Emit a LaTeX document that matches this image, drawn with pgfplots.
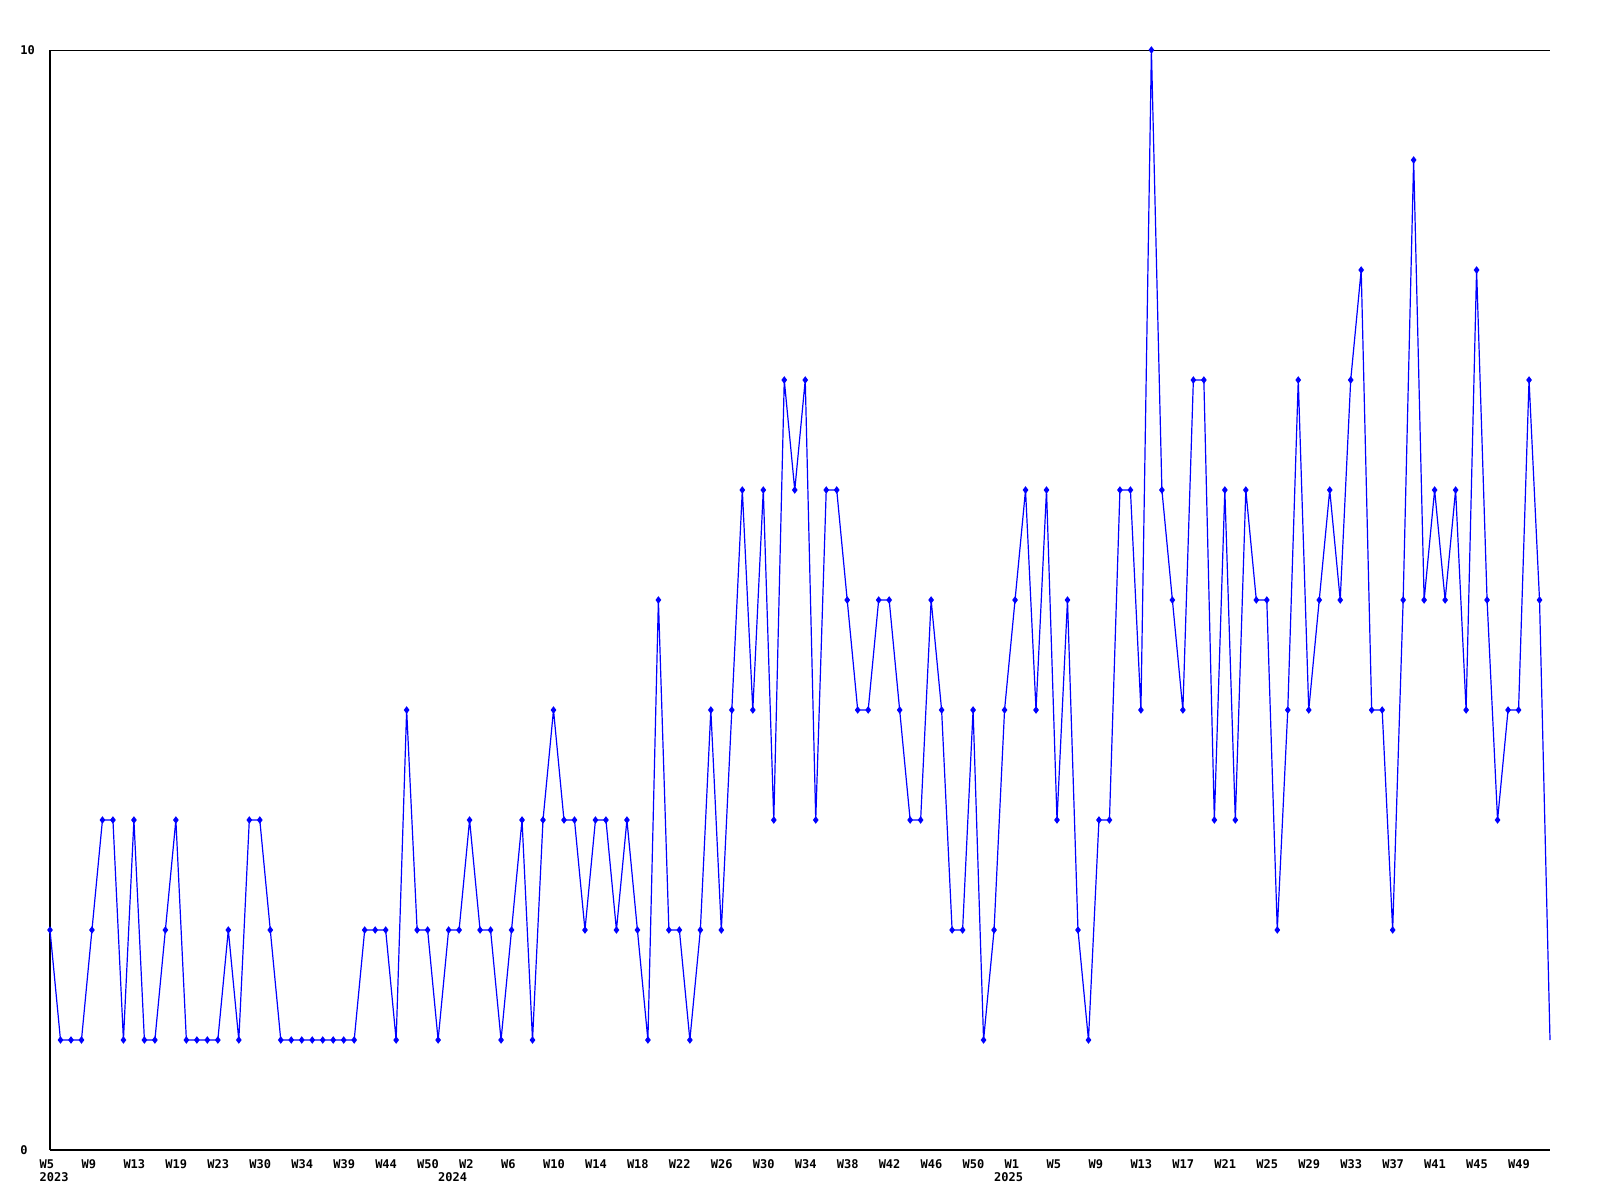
\documentclass[border=0pt]{standalone}
\usepackage{pgfplots}
\pgfplotsset{compat=1.18}
\usepackage{fontspec}
\setmonofont{DejaVu Sans Mono}
\newcommand{\lblfont}{\ttfamily\bfseries\fontsize{6}{7}\selectfont}

% weekly counts, one point per week (index 0 = 2023 W5)
\newcommand{\weekdata}{
(0,2) (1,1) (2,1) (3,1) (4,2) (5,3) (6,3) (7,1) (8,3) (9,1)
(10,1) (11,2) (12,3) (13,1) (14,1) (15,1) (16,1) (17,2) (18,1) (19,3)
(20,3) (21,2) (22,1) (23,1) (24,1) (25,1) (26,1) (27,1) (28,1) (29,1)
(30,2) (31,2) (32,2) (33,1) (34,4) (35,2) (36,2) (37,1) (38,2) (39,2)
(40,3) (41,2) (42,2) (43,1) (44,2) (45,3) (46,1) (47,3) (48,4) (49,3)
(50,3) (51,2) (52,3) (53,3) (54,2) (55,3) (56,2) (57,1) (58,5) (59,2)
(60,2) (61,1) (62,2) (63,4) (64,2) (65,4) (66,6) (67,4) (68,6) (69,3)
(70,7) (71,6) (72,7) (73,3) (74,6) (75,6) (76,5) (77,4) (78,4) (79,5)
(80,5) (81,4) (82,3) (83,3) (84,5) (85,4) (86,2) (87,2) (88,4) (89,1)
(90,2) (91,4) (92,5) (93,6) (94,4) (95,6) (96,3) (97,5) (98,2) (99,1)
(100,3) (101,3) (102,6) (103,6) (104,4) (105,10) (106,6) (107,5) (108,4) (109,7)
(110,7) (111,3) (112,6) (113,3) (114,6) (115,5) (116,5) (117,2) (118,4) (119,7)
(120,4) (121,5) (122,6) (123,5) (124,7) (125,8) (126,4) (127,4) (128,2) (129,5)
(130,9) (131,5) (132,6) (133,5) (134,6) (135,4) (136,8) (137,5) (138,3) (139,4)
(140,4) (141,7) (142,5)
}

\begin{document}
\begin{tikzpicture}
\path[use as bounding box] (0,0) rectangle (800pt,600pt);
\begin{axis}[
  at={(25pt,25pt)}, anchor=south west,
  scale only axis,
  width=750pt, height=550pt,
  xmin=0, xmax=143, ymin=0, ymax=10,
  axis x line*=bottom, axis y line*=left,
  axis line style={black, line width=0.6pt, -},
  major tick length=0pt,
  ytick={0,10},
  ymajorgrids, grid style={black, line width=0.4pt},
  xtick={0,4,...,140},
  xticklabels={W5,W9,W13,W19,W23,W30,W34,W39,W44,W50,W2,W6,W10,W14,W18,W22,W26,W30,W34,W38,W42,W46,W50,W1,W5,W9,W13,W17,W21,W25,W29,W33,W37,W41,W45,W49},
  /pgf/number format/assume math mode=true,
  yticklabel style={font=\lblfont, anchor=west, inner sep=0pt, xshift=-15pt},
  xticklabel style={font=\lblfont, anchor=north west, inner sep=0pt, xshift=-5.4pt, yshift=-4.5pt},
  clip=false,
]
\addplot[color={rgb,255:red,0;green,0;blue,255}, line width=0.6pt, mark=diamond*, mark size=1.4pt,
  mark options={solid, fill={rgb,255:red,0;green,0;blue,255}}] coordinates {\weekdata};
\addplot[color={rgb,255:red,0;green,0;blue,255}, line width=0.6pt, no marks] coordinates {(142,5) (143,1)};
\node[font=\lblfont, anchor=north west, inner sep=0pt, xshift=-5.4pt, yshift=-11pt] at (axis cs:0,0) {2023};
\node[font=\lblfont, anchor=north west, inner sep=0pt, xshift=-5.4pt, yshift=-11pt] at (axis cs:38,0) {2024};
\node[font=\lblfont, anchor=north west, inner sep=0pt, xshift=-5.4pt, yshift=-11pt] at (axis cs:91,0) {2025};
\end{axis}
\end{tikzpicture}
\end{document}
